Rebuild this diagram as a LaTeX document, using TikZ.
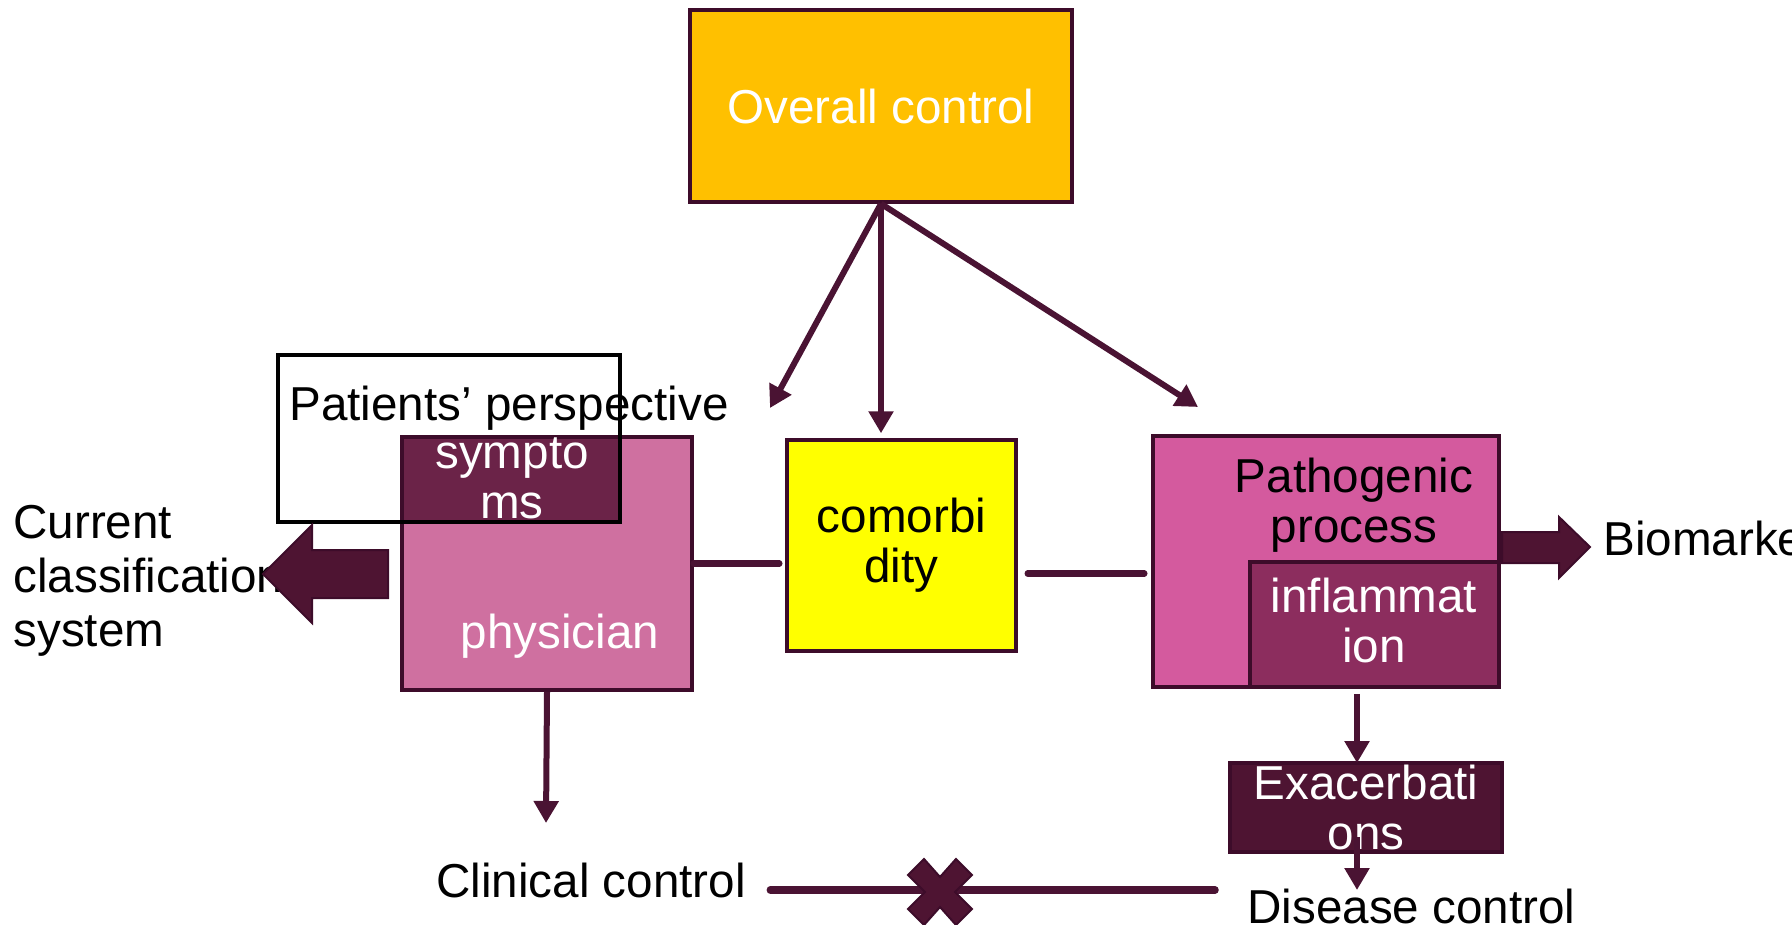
\documentclass[tikz,border=0pt]{standalone}
\usepackage{fontspec}
\setmainfont{Liberation Sans}
\usetikzlibrary{arrows.meta,calc,positioning}
\definecolor{plum}{HTML}{4A1333}
\definecolor{edgeplum}{HTML}{3D0C2A}
\definecolor{gold}{HTML}{FFC000}
\definecolor{rosepink}{HTML}{CF70A0}
\definecolor{wine}{HTML}{6B2348}
\definecolor{lemon}{HTML}{FFFF00}
\definecolor{orchid}{HTML}{D45A9E}
\definecolor{berry}{HTML}{8C2D5E}
\definecolor{darkplum}{HTML}{4E1432}
\newcommand{\bodyfont}{\fontsize{23.8}{25}\selectfont}
\tikzset{
  box/.style={draw=edgeplum, line width=1.75pt, inner sep=0pt, align=center, font=\bodyfont},
  txt/.style={inner sep=0pt, align=center, font=\bodyfont},
  link/.style={draw=plum, line width=3.25pt, line cap=round},
  pointer/.style={draw=plum, line width=3pt, -{Triangle[length=11pt,width=12pt]}},
  fat arrow/.style={fill=darkplum, draw=edgeplum, line width=1pt},
}

\begin{document}
\begin{tikzpicture}[x=0.5pt, y=-0.5pt]
  \useasboundingbox (0,0) rectangle (1792,925);

  % Top box
  \node[box, fill=gold, text=white, minimum width=191pt, minimum height=96pt] (overall) at (881,106) {Overall control};

  % Left column
  \node[box, fill=rosepink, minimum width=145pt, minimum height=126.5pt] (phys) at (547,563.5) {};
  \node[box, fill=wine, minimum width=109pt, minimum height=42.5pt] (symp) at (511,479.5) {};
  \node[box, draw=black, minimum width=171pt, minimum height=83.5pt] (persp) at (449,438.5) {};
  \node[txt, anchor=base west] (persptext) at (289,420) {Patients’ perspective};
  \node[txt, text=white] (symptext) at (512,478) {sympto\\ms};
  \node[txt, text=white, anchor=base] (phystext) at (560,648) {physician};

  % Middle and right columns
  \node[box, fill=lemon, minimum width=114.5pt, minimum height=105.5pt] (comorb) at (901.5,545.5) {comorbi\\dity};
  \node[box, fill=orchid, minimum width=173pt, minimum height=125.5pt] (path) at (1326,561.5) {};
  \node[box, fill=berry, minimum width=124.5pt, minimum height=62.5pt] (inflam) at (1374.5,624.5) {};
  \node[txt] (pathtext) at (1354,505) {Pathogenic\\process};
  \node[txt, text=white] (inflamtext) at (1374,620) {inflammat\\ion};
  \node[box, fill=darkplum, text=white, minimum width=136pt, minimum height=44.5pt] (exac) at (1366,807.5) {Exacerbati\\ons};

  % Outer labels
  \node[txt, anchor=west, align=left, font=\fontsize{23.8}{27}\selectfont] (current) at (13,581) {Current\\classification\\system};
  \node[txt, anchor=base west] (bio) at (1603,555) {Biomarkers};
  \node[txt, anchor=base west] (clin) at (436,897) {Clinical control};
  \node[txt, anchor=base west] (dis) at (1247,923) {Disease control};

  % Free ends
  \coordinate (tipL) at (770,408);
  \coordinate (tipR) at (1198,407);
  \coordinate (clinTip) at (546,823);
  \coordinate (exTop) at (1357,763);
  \coordinate (disTip) at (1357,890);

  % Arrows from overall control
  \draw[pointer] (overall.south) -- (tipL);
  \draw[pointer, shorten >=2.5pt] (overall.south) -- (overall.south |- comorb.north);
  \draw[pointer] (overall.south) -- (tipR);

  % Links between boxes
  \draw[link, shorten >=3pt] (phys.east) -- (comorb.west |- phys.east);
  \draw[link, shorten <=5pt, shorten >=3.5pt] ([yshift=-14pt]comorb.east) -- ([yshift=-14pt]comorb.east -| path.west);
  \draw[pointer] (phys.south) -- (clinTip);
  \draw[pointer, shorten <=2.5pt] (exTop |- inflam.south) -- (exTop);
  \draw[pointer] ([yshift=8.5pt]exac.south -| disTip) -- (disTip);

  % Block arrows
  \draw[fat arrow] (388,550) -- (312,550) -- (312,525) -- (263,574) -- (312,623) -- (312,598) -- (388,598) -- cycle;
  \draw[fat arrow] (1502,532) -- (1559,532) -- (1559,517) -- (1590,547) -- (1559,578) -- (1559,563) -- (1502,563) -- cycle;

  % Clinical vs disease control
  \draw[link, line width=3.75pt, shorten >=16pt] ([xshift=12pt,yshift=-5pt]clin.east) -- ([yshift=-5pt]clin.east -| dis.west);
  \draw[fat arrow, shift={(940,892)}] (-32,-17) -- (-16,-33) -- (0,-15) -- (16,-33) -- (32,-17) -- (15,0)
    -- (32,17) -- (16,33) -- (0,15) -- (-16,33) -- (-32,17) -- (-15,0) -- cycle;
\end{tikzpicture}
\end{document}
